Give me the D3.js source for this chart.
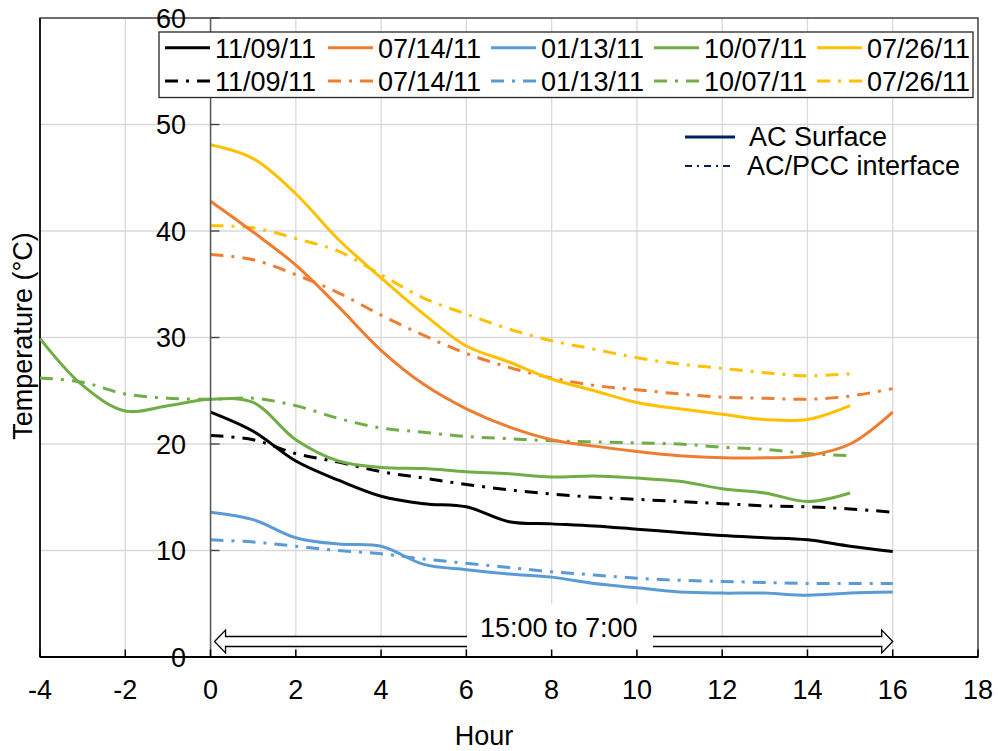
<!DOCTYPE html>
<html><head><meta charset="utf-8">
<script src="https://cdn.jsdelivr.net/npm/d3@7"></script>
<style>
body{margin:0;background:#fff}
text{font-family:"Liberation Sans",Arial,sans-serif;fill:#000}
</style>
</head><body>
<svg id="c" width="998" height="751"></svg>
<script>
// ---------- data ----------
const hours16 = [0,1,2,3,4,5,6,7,8,9,10,11,12,13,14,15,16];
const hours15 = [0,1,2,3,4,5,6,7,8,9,10,11,12,13,14,15];
const hoursGreen = [-4,-3,-2,-1,0,1,2,3,4,5,6,7,8,9,10,11,12,13,14,15];

const surf1109 = [23.0,21.2,18.4,16.6,15.1,14.4,14.1,12.7,12.5,12.3,12.0,11.7,11.4,11.2,11.0,10.4,9.9];
const surf0714 = [42.8,39.9,36.8,32.9,28.8,25.6,23.3,21.6,20.4,19.8,19.3,18.9,18.7,18.7,18.9,20.0,23.0];
const surf0113 = [13.6,12.9,11.2,10.6,10.4,8.7,8.2,7.8,7.5,6.9,6.5,6.1,6.0,6.0,5.8,6.0,6.1];
const surf1007 = [29.9,25.5,23.1,23.6,24.2,23.9,20.4,18.4,17.8,17.7,17.4,17.2,16.9,17.0,16.8,16.5,15.8,15.4,14.6,15.4];
const surf0726 = [48.1,46.8,43.5,39.2,35.6,32.2,29.2,27.7,26.1,25.0,23.9,23.3,22.8,22.3,22.3,23.6];

const intf1109 = [20.8,20.4,19.1,18.3,17.4,16.8,16.2,15.7,15.3,15.0,14.8,14.6,14.4,14.2,14.1,13.9,13.6];
const intf0714 = [37.8,37.3,35.9,34.2,32.1,30.2,28.5,27.2,26.2,25.5,25.1,24.7,24.4,24.3,24.2,24.5,25.2];
const intf0113 = [11.0,10.8,10.4,10.0,9.7,9.2,8.8,8.4,8.0,7.7,7.4,7.2,7.1,7.0,6.9,6.9,6.9];
const intf1007 = [26.2,25.8,24.7,24.3,24.2,24.3,23.6,22.4,21.5,21.1,20.7,20.5,20.3,20.2,20.1,20.0,19.7,19.5,19.1,18.9];
const intf0726 = [40.5,40.3,39.3,38.1,35.9,33.7,32.2,30.8,29.7,28.9,28.1,27.5,27.1,26.7,26.4,26.6];

const dates = ["11/09/11","07/14/11","01/13/11","10/07/11","07/26/11"];
const colors = ["#000000","#ED7D31","#5B9BD5","#70AD47","#FFC000"];
const xTicks = [-4,-2,0,2,4,6,8,10,12,14,16,18];
const yTicks = [0,10,20,30,40,50,60];
const xTitle = "Hour";
const yTitle = "Temperature (°C)";
const annotation = "15:00 to 7:00";
const typeLabels = ["AC Surface","AC/PCC interface"];

const surfaceSeries = [
  {hours:hours16, vals:surf1109}, {hours:hours16, vals:surf0714}, {hours:hours16, vals:surf0113},
  {hours:hoursGreen, vals:surf1007}, {hours:hours15, vals:surf0726}
];
const interfaceSeries = [
  {hours:hours16, vals:intf1109}, {hours:hours16, vals:intf0714}, {hours:hours16, vals:intf0113},
  {hours:hoursGreen, vals:intf1007}, {hours:hours15, vals:intf0726}
];

// ---------- chart ----------
const svg = d3.select("#c");
const L = 40, R = 978, T = 18, B = 657;
const x = d3.scaleLinear().domain([-4,18]).range([L,R]);
const y = d3.scaleLinear().domain([0,60]).range([B,T]);
const FS = 27;
const dashDot = "13,8,3,8";

// gridlines
const g = svg.append("g");
g.selectAll(".vg").data(xTicks.filter(d=>d>-4 && d<18)).enter().append("line")
  .attr("x1",d=>x(d)).attr("x2",d=>x(d)).attr("y1",T).attr("y2",B)
  .attr("stroke","#d9d9d9").attr("stroke-width",1.3);
g.selectAll(".hg").data(yTicks.filter(d=>d>0 && d<60)).enter().append("line")
  .attr("x1",L).attr("x2",R).attr("y1",d=>y(d)).attr("y2",d=>y(d))
  .attr("stroke","#d9d9d9").attr("stroke-width",1.3);

// plot border
svg.append("rect").attr("x",L).attr("y",T).attr("width",R-L).attr("height",B-T)
  .attr("fill","none").attr("stroke","#404040").attr("stroke-width",1.5);
svg.append("line").attr("x1",L).attr("x2",L).attr("y1",T).attr("y2",B).attr("stroke","#000").attr("stroke-width",1.5);

// series
const line = d3.line().curve(d3.curveCatmullRom.alpha(0.5));
function drawSeries(s, i, dashed){
  const pts = s.hours.map((h,k)=>[x(h), y(s.vals[k])]);
  svg.append("path").attr("d", line(pts)).attr("fill","none")
    .attr("stroke", colors[i]).attr("stroke-width", 3)
    .attr("stroke-dasharray", dashed ? dashDot : null);
}
interfaceSeries.forEach((s,i)=>drawSeries(s,i,true));
surfaceSeries.forEach((s,i)=>drawSeries(s,i,false));

// double-headed block arrow
const yc = 641.5, hh = 11.5, sh = 5;
const tipL = x(0)+4, baseL = tipL+11, tipR = x(16), baseR = tipR-11;
const arrowPts = [[tipL,yc],[baseL,yc-hh],[baseL,yc-sh],[baseR,yc-sh],[baseR,yc-hh],[tipR,yc],
  [baseR,yc+hh],[baseR,yc+sh],[baseL,yc+sh],[baseL,yc+hh]];
svg.append("polygon").attr("points", arrowPts.map(p=>p.join(",")).join(" "))
  .attr("fill","#fff").attr("stroke","#000").attr("stroke-width",1.3);
svg.append("rect").attr("x",467).attr("y",604).attr("width",186).attr("height",46).attr("fill","#fff");
svg.append("text").attr("x",480).attr("y",637).attr("font-size",FS).text(annotation);

// y axis at x=0
svg.append("line").attr("x1",x(0)).attr("x2",x(0)).attr("y1",T).attr("y2",B)
  .attr("stroke","#595959").attr("stroke-width",1.5);
svg.selectAll(".yt").data(yTicks).enter().append("line")
  .attr("x1",x(0)).attr("x2",x(0)+9).attr("y1",d=>y(d)).attr("y2",d=>y(d))
  .attr("stroke","#404040").attr("stroke-width",1.3);
svg.selectAll(".yl").data(yTicks).enter().append("text")
  .attr("x",186).attr("y",d=>y(d)).attr("dy","0.36em").attr("text-anchor","end")
  .attr("font-size",FS).text(d=>d);

// x axis at bottom
svg.append("line").attr("x1",L).attr("x2",R).attr("y1",B).attr("y2",B).attr("stroke","#000").attr("stroke-width",2);
svg.selectAll(".xt").data(xTicks).enter().append("line")
  .attr("x1",d=>x(d)).attr("x2",d=>x(d)).attr("y1",B).attr("y2",B-7.5)
  .attr("stroke","#000").attr("stroke-width",1.5);
svg.selectAll(".xl").data(xTicks).enter().append("text")
  .attr("x",d=>x(d)).attr("y",699).attr("text-anchor","middle")
  .attr("font-size",FS).text(d=>d);

// titles
svg.append("text").attr("x",484).attr("y",745).attr("text-anchor","middle").attr("font-size",FS).text(xTitle);
svg.append("text").attr("transform","translate(32,336) rotate(-90)").attr("text-anchor","middle")
  .attr("font-size",FS).text(yTitle);

// legend (dates)
const lg = svg.append("g");
lg.append("rect").attr("x",159).attr("y",32).attr("width",814).attr("height",65.5)
  .attr("fill","#fff").attr("stroke","#262626").attr("stroke-width",1.3);
[0,1].forEach(row=>{
  const ly = row===0 ? 47.7 : 81, ty = row===0 ? 57.5 : 90.5;
  dates.forEach((d,i)=>{
    const x0 = 165 + i*163;
    lg.append("line").attr("x1",x0).attr("x2",x0+45).attr("y1",ly).attr("y2",ly)
      .attr("stroke",colors[i]).attr("stroke-width",3)
      .attr("stroke-dasharray", row===1 ? dashDot : null);
    lg.append("text").attr("x",x0+50).attr("y",ty).attr("font-size",FS).text(d);
  });
});

// legend (types)
const tg = svg.append("g");
tg.append("line").attr("x1",685).attr("x2",735).attr("y1",137).attr("y2",137)
  .attr("stroke","#002060").attr("stroke-width",3);
tg.append("text").attr("x",749).attr("y",145.5).attr("font-size",FS).text(typeLabels[0]);
tg.append("line").attr("x1",685).attr("x2",735).attr("y1",166).attr("y2",166)
  .attr("stroke","#002060").attr("stroke-width",2).attr("stroke-dasharray","7,5,2,5");
tg.append("text").attr("x",747).attr("y",174.5).attr("font-size",FS).text(typeLabels[1]);
</script>
</body></html>
